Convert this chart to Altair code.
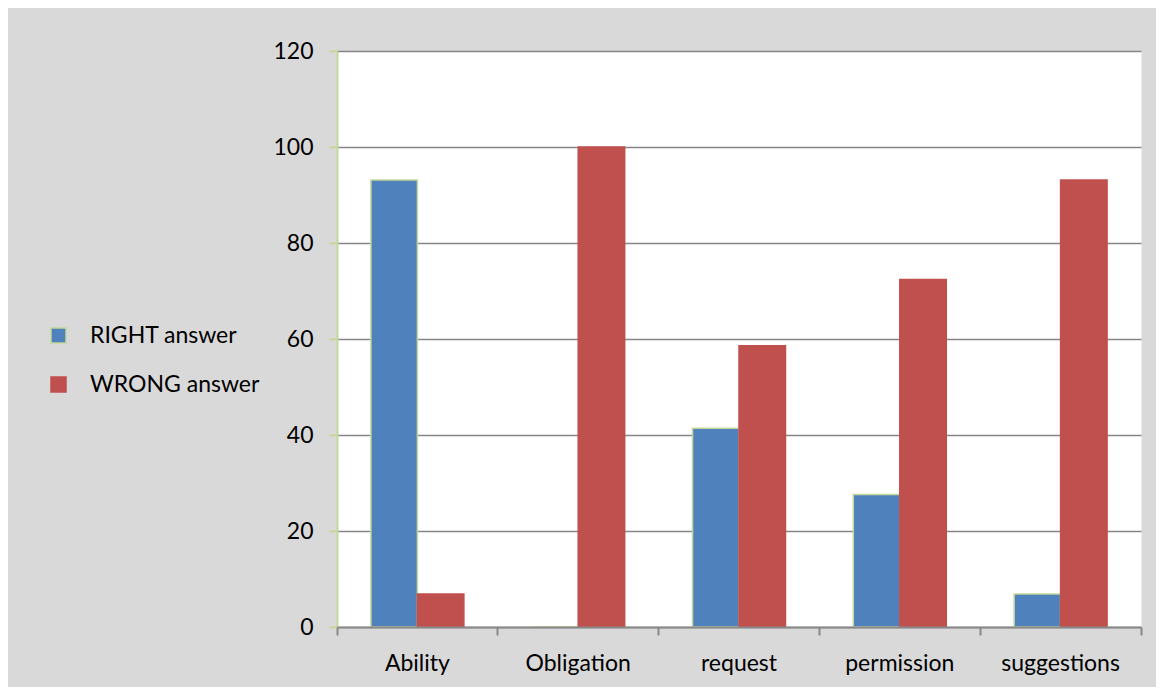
import altair as alt
import pandas as pd

categories = ["Ability", "Obligation", "request", "permission", "suggestions"]
right_answer = [93.1, 0, 41.4, 27.6, 6.9]
wrong_answer = [6.9, 100, 58.6, 72.4, 93.1]
series = ["RIGHT answer", "WRONG answer"]
y_ticks = [0, 20, 40, 60, 80, 100, 120]

rows = []
for c, r, w in zip(categories, right_answer, wrong_answer):
    rows.append({"category": c, "series": series[0], "value": r})
    rows.append({"category": c, "series": series[1], "value": w})
df = pd.DataFrame(rows)

FONT = "Lato"


def make_legend():
    return alt.Legend(
        title=None, orient="none", legendX=-290, legendY=273,
        symbolType="square", symbolSize=225, symbolStrokeWidth=1.5,
        labelFontSize=23, labelFont=FONT, labelColor="black",
        labelOffset=20, labelLimit=400, rowPadding=25, padding=0,
    )


chart = alt.Chart(df).mark_bar(strokeWidth=1.5).encode(
    x=alt.X(
        "category:N", sort=categories, title=None,
        scale=alt.Scale(paddingInner=0, paddingOuter=0),
        axis=alt.Axis(
            labelAngle=0, bandPosition=1, tickExtra=True,
            domainColor="#898989", domainWidth=2,
            tickColor="#898989", tickWidth=2, tickSize=8,
            labelPadding=17, labelFontSize=23, labelFont=FONT,
            labelColor="black", grid=False, zindex=1,
        ),
    ),
    xOffset=alt.XOffset(
        "series:N", sort=series,
        scale=alt.Scale(paddingInner=0, paddingOuter=0.73),
    ),
    y=alt.Y(
        "value:Q", title=None,
        scale=alt.Scale(domain=[0, 120], nice=False, zero=True),
        axis=alt.Axis(
            values=y_ticks, grid=True, gridColor="#868686", gridWidth=1.5,
            domainColor="#c4d79b", domainWidth=2,
            tickColor="#c4d79b", tickWidth=2, tickSize=8,
            labelPadding=16, labelFontSize=23, labelFont=FONT,
            labelColor="black",
        ),
    ),
    color=alt.Color(
        "series:N", sort=series,
        scale=alt.Scale(domain=series, range=["#4f81bd", "#c0504d"]),
        legend=make_legend(),
    ),
    stroke=alt.Stroke(
        "series:N", sort=series,
        scale=alt.Scale(domain=series, range=["#c4d79b", "#c0504d"]),
        legend=make_legend(),
    ),
).properties(
    width=804,
    height=576,
    autosize=alt.AutoSizeParams(type="none"),
    padding={"left": 329, "top": 43, "right": 15, "bottom": 60},
    background="#d9d9d9",
).configure_view(fill="white", stroke="transparent")

chart.save("out.html", embed_options={"renderer": "svg", "actions": False})
